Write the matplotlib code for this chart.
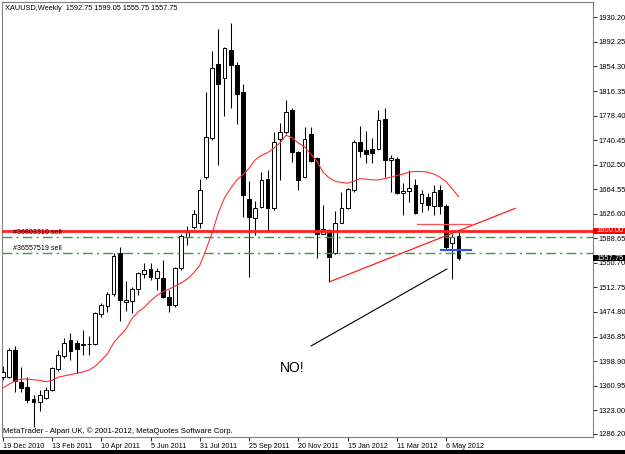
import matplotlib

matplotlib.use("Agg")

from matplotlib import pyplot as plt
from matplotlib import transforms
from matplotlib.patches import Rectangle

plt.rcParams["font.family"] = ["Liberation Sans", "DejaVu Sans"]

# weekly XAUUSD candles, 19 Dec 2010 .. 20 May 2012
opens = [1374, 1375, 1416, 1367, 1359, 1341, 1335, 1342, 1354, 1386,
         1406, 1431, 1427, 1424, 1425, 1425, 1472, 1484, 1503, 1566,
         1490, 1492, 1511, 1533, 1541, 1527, 1528, 1498, 1486, 1542,
         1591, 1606, 1612, 1684, 1743, 1858, 1836, 1880, 1857, 1815,
         1649, 1620, 1637, 1680, 1635, 1742, 1753, 1787, 1722, 1684,
         1750, 1713, 1596, 1602, 1566, 1613, 1636, 1663, 1737, 1725,
         1726, 1726, 1773, 1710, 1712, 1659, 1662, 1671, 1643, 1653,
         1639, 1663, 1639, 1582, 1592.75]
highs = [1392, 1419, 1422, 1389, 1375, 1347, 1354, 1359, 1390, 1416,
         1434, 1442, 1431, 1447, 1438, 1474, 1489, 1506, 1566, 1576,
         1522, 1514, 1537, 1550, 1550, 1542, 1555, 1509, 1545, 1596,
         1608, 1632, 1681, 1815, 1878, 1912, 1885, 1921, 1861, 1828,
         1677, 1646, 1691, 1694, 1753, 1767, 1803, 1790, 1723, 1760,
         1761, 1715, 1640, 1603, 1631, 1661, 1667, 1741, 1763, 1754,
         1743, 1787, 1790, 1718, 1715, 1674, 1695, 1681, 1663, 1658,
         1671, 1671, 1642, 1596, 1599.05]
lows = [1370, 1372, 1351, 1351, 1334, 1297, 1321, 1340, 1352, 1384,
        1404, 1400, 1380, 1408, 1408, 1423, 1467, 1475, 1500, 1461,
        1476, 1473, 1501, 1527, 1524, 1509, 1496, 1475, 1483, 1540,
        1578, 1603, 1604, 1681, 1741, 1702, 1777, 1790, 1766, 1622,
        1529, 1594, 1636, 1600, 1632, 1679, 1750, 1707, 1663, 1682,
        1707, 1558, 1596, 1521, 1564, 1612, 1634, 1660, 1715, 1705,
        1705, 1725, 1684, 1661, 1657, 1625, 1645, 1627, 1630, 1632,
        1625, 1627, 1572, 1525, 1555.75]
closes = [1382, 1416, 1368, 1358, 1339, 1335, 1346, 1354, 1388, 1408,
          1427, 1414, 1417, 1426, 1426, 1473, 1485, 1502, 1561, 1493,
          1494, 1510, 1535, 1540, 1529, 1538, 1498, 1486, 1542, 1593,
          1598, 1626, 1663, 1746, 1852, 1828, 1883, 1857, 1811, 1656,
          1622, 1636, 1679, 1635, 1737, 1753, 1784, 1722, 1679, 1742,
          1708, 1596, 1603, 1560, 1613, 1635, 1665, 1738, 1724, 1719,
          1720, 1772, 1710, 1713, 1659, 1662, 1667, 1628, 1657, 1640,
          1661, 1639, 1576, 1591, 1557.75]

# moving average, one value per candle
ma_values = [1357, 1363, 1368, 1371, 1371, 1370, 1369, 1367, 1369, 1374,
             1376, 1378, 1380, 1382, 1385, 1391, 1400, 1410, 1427, 1438,
             1448, 1465, 1475, 1482, 1492, 1500, 1506, 1510, 1515, 1520,
             1526, 1535, 1547, 1571, 1597, 1628, 1651, 1666, 1679, 1687,
             1697, 1710, 1717, 1721, 1728, 1736, 1748, 1744, 1736, 1730,
             1719, 1708, 1691, 1682, 1677, 1675, 1674, 1677, 1681, 1680,
             1679, 1679, 1681, 1683, 1686, 1688, 1691, 1692, 1692, 1691,
             1688, 1683, 1676, 1665, 1653]

date_labels = ["19 Dec 2010", "13 Feb 2011", "10 Apr 2011", "5 Jun 2011", "31 Jul 2011",
               "25 Sep 2011", "20 Nov 2011", "15 Jan 2012", "11 Mar 2012", "6 May 2012"]
date_bars = [0, 8, 16, 24, 32, 40, 48, 56, 64, 72]

price_ticks = [1930.20, 1892.25, 1854.30, 1816.35, 1778.40, 1740.45, 1702.50, 1664.55, 1626.60,
               1588.65, 1550.70, 1512.75, 1474.80, 1436.85, 1398.90, 1360.95, 1323.00, 1286.20]

level_price = 1600.00
last_price = 1557.75
order_levels = [1590.0, 1565.5]
order_labels = ["#36803310 sell", "#36557519 sell"]

trend_bars = [53.1, 83.2]
trend_prices = [1521.6, 1635.0]
black_bars = [50.05, 72.1]
black_prices = [1422.2, 1541.2]
red_stub_bars = [67.2, 76.0]
red_stub_price = 1611.0
blue_stub_bars = [71.1, 76.0]
blue_stub_price = 1570.6

title = "XAUUSD,Weekly  1592.75 1599.05 1555.75 1557.75"
footer = "MetaTrader - Alpari UK, \u00a9 2001-2012, MetaQuotes Software Corp."

W, H = 625, 454
fig = plt.figure(figsize=(W / 100, H / 100), dpi=100)
ax = fig.add_axes([2 / W, 17 / H, 591 / W, 435 / H])

bars = list(range(len(opens)))
for i in bars:
    o, h, l, c = opens[i], highs[i], lows[i], closes[i]
    ax.vlines(i, l, h, color="black", linewidth=0.75, zorder=2)
    up = c >= o
    ax.bar(i, max(abs(c - o), 0.9), bottom=min(o, c), width=0.62,
           facecolor="white" if up else "black", edgecolor="black", linewidth=0.7, zorder=3)

ax.plot(bars, ma_values, color="#ff3030", linewidth=0.8, zorder=4)

ax.axhline(level_price, color="#ff2020", linewidth=2.0, zorder=5)
for lvl, lab in zip(order_levels, order_labels):
    ax.axhline(lvl, color="#3a9a3a", linewidth=1.0, dashes=(7, 3, 1.5, 3), zorder=4)
    ax.text(1.6, lvl + 2.5, lab, fontsize=5.1, color="black", va="bottom", ha="left", zorder=6)

ax.plot(trend_bars, trend_prices, color="#ff2020", linewidth=0.9, zorder=5)
ax.plot(black_bars, black_prices, color="black", linewidth=0.8, zorder=5)
ax.plot(red_stub_bars, [red_stub_price] * 2, color="#ff5050", linewidth=0.9, zorder=5)
ax.plot(blue_stub_bars, [blue_stub_price] * 2, color="#3050ff", linewidth=1.5, zorder=5)
ax.text(45.0, 1388, "NO!", fontsize=10, ha="left", va="center", color="black")

ax.set_xlim(-0.114, 95.83)
ax.set_ylim(1281.5, 1954.0)

for s in ax.spines.values():
    s.set_color("#808080")
    s.set_linewidth(0.8)

ax.yaxis.tick_right()
ax.set_yticks(price_ticks)
ax.set_yticklabels([f"{p:.2f}" for p in price_ticks])
ax.tick_params(axis="y", length=3, width=0.6, pad=1, labelsize=5.4, colors="black")
ax.set_xticks(date_bars)
ax.set_xticklabels(date_labels, ha="left")
ax.tick_params(axis="x", length=3, width=0.6, pad=1.5, labelsize=5.2, colors="black")

ax.text(0.005, 0.992, title, transform=ax.transAxes, fontsize=5.3, ha="left", va="top")
ax.text(0.002, 0.004, footer, transform=ax.transAxes, fontsize=5.6, ha="left", va="bottom")

# price boxes on the right scale
tr = transforms.blended_transform_factory(fig.transFigure, ax.transData)
for price, bg in [(level_price, "#ff0000"), (last_price, "black")]:
    fig.patches.append(Rectangle((593 / W, price - 4.8), 32 / W, 9.6, transform=tr,
                                 facecolor=bg, edgecolor="none", zorder=5))
    fig.text(596 / W, price, f"{price:.2f}", transform=tr, fontsize=5.4, color="white",
             ha="left", va="center", zorder=6)

fig.patches.append(Rectangle((0, 0), 1, 4 / H, transform=fig.transFigure,
                             facecolor="black", edgecolor="none", zorder=5))

fig.savefig("out.png", dpi=100)
